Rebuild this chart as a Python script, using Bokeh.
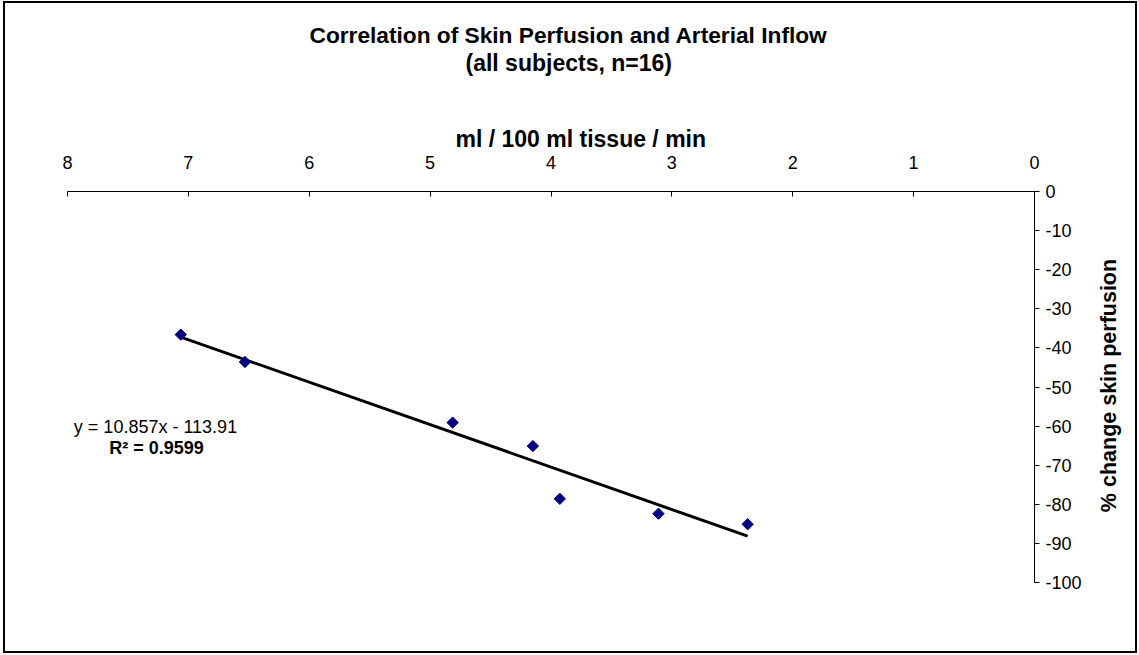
import numpy as np
from bokeh.plotting import figure
from bokeh.models import Range1d, FixedTicker, Label, Title, ColumnDataSource
from bokeh.embed import file_html
from bokeh.resources import INLINE

# ---- data ----
inflow = [7.063, 6.532, 4.814, 4.150, 3.927, 3.111, 2.373]          # ml / 100 ml tissue / min
perfusion = [-36.6, -43.6, -59.1, -65.1, -78.6, -82.4, -85.1]         # % change skin perfusion
slope = 10.857
intercept = -113.91
r_squared = 0.9599
x_ticks = [0, 1, 2, 3, 4, 5, 6, 7, 8]
y_ticks = [0, -10, -20, -30, -40, -50, -60, -70, -80, -90, -100]

FONT = "Liberation Sans"

p = figure(width=1134, height=652, output_backend="svg", toolbar_location=None,
           x_range=Range1d(8, 0), y_range=Range1d(-100, 0),
           x_axis_location="above", y_axis_location="right",
           min_border_left=62, min_border_top=188, min_border_right=105, min_border_bottom=73)
p.styles = {"margin-left": "3px", "margin-top": "1px", "border": "2px solid black"}

p.outline_line_color = None
p.xgrid.visible = False
p.ygrid.visible = False
p.background_fill_color = "white"
p.border_fill_color = "white"

xa = p.xaxis[0]
xa.ticker = FixedTicker(ticks=x_ticks)
xa.major_tick_in = 5
xa.major_tick_out = 0
xa.minor_tick_line_color = None
xa.axis_line_color = "black"
xa.major_tick_line_color = "black"
xa.major_label_text_font = FONT
xa.major_label_text_font_size = "18px"
xa.major_label_text_color = "black"
xa.major_label_standoff = 23

ya = p.yaxis[0]
ya.ticker = FixedTicker(ticks=y_ticks)
ya.major_label_overrides = {t: str(t) for t in y_ticks}
ya.major_tick_in = 0
ya.major_tick_out = 5
ya.minor_tick_line_color = None
ya.axis_line_color = "black"
ya.major_tick_line_color = "black"
ya.major_label_text_font = FONT
ya.major_label_text_font_size = "18px"
ya.major_label_text_color = "black"
ya.major_label_standoff = 6


def title(text, offset, standoff, size="23px"):
    p.add_layout(Title(text=text, align="left", offset=offset, standoff=standoff,
                       text_font=FONT, text_font_size=size, text_font_style="bold",
                       text_color="black"), "above")


# stacked outward from the frame
title("ml / 100 ml tissue / min", 388, 2)
title(" ", 0, 44, size="1px")           # vertical gap
title("(all subjects, n=16)", 398, 0)
title("Correlation of Skin Perfusion and Arterial Inflow", 242, 0, size="22.7px")

# trend line from the fitted equation
tx = np.array([max(inflow), min(inflow)])
ty = slope * tx + intercept
p.line(tx, ty, line_color="black", line_width=3)

src = ColumnDataSource(dict(x=inflow, y=perfusion))
p.scatter("x", "y", source=src, marker="square", size=8, angle=np.pi / 4,
          fill_color="#000080", line_color="#000080")


def lab(text, x, y, style, size="18px", angle=0.0, place="center"):
    p.add_layout(Label(x=x, y=y, x_units="canvas", y_units="canvas", text=text,
                       text_font=FONT, text_font_size=size, text_font_style=style,
                       text_color="black", text_align="center", text_baseline="middle",
                       angle=angle), place)


lab(f"y = {slope}x - {abs(intercept)}", 148, 421, "normal")
lab(f"R² = {r_squared}", 149, 442, "bold")
# rotated y title, placed in the right side panel (not clipped to the frame)
lab("% change skin perfusion", 1101, 380, "bold", size="21.5px", angle=np.pi / 2, place="right")

open("out.html", "w").write(file_html(p, INLINE))
